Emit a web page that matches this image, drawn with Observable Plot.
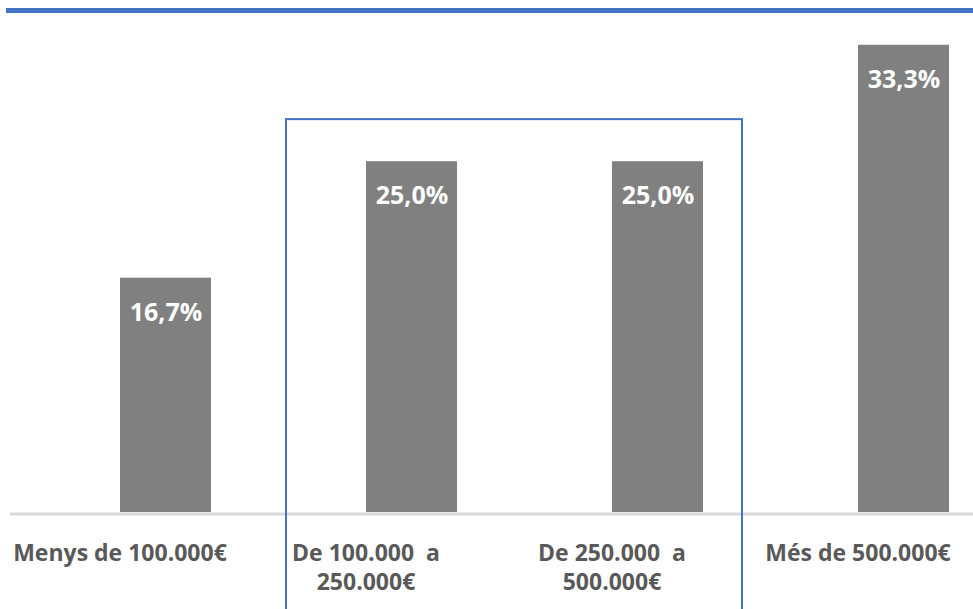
<!DOCTYPE html>
<html>
<head>
<meta charset="utf-8">
<script src="https://cdn.jsdelivr.net/npm/d3@7"></script>
<script src="https://cdn.jsdelivr.net/npm/@observablehq/plot@0.6"></script>
<style>
  html, body { margin: 0; padding: 0; background: #fff; }
  #wrap { position: relative; width: 973px; height: 609px; overflow: hidden; }
  #topbar { position: absolute; left: 6px; right: 0; top: 8px; height: 5px; background: #4472C4; }
  #chart { position: absolute; left: 0; top: 0; }
</style>
</head>
<body>
<div id="wrap">
  <div id="chart"></div>
  <div id="topbar"></div>
</div>
<script>
const categories = ["Menys de 100.000€", "De 100.000 a 250.000€", "De 250.000 a 500.000€", "Més de 500.000€"];
const tickLabels = ["Menys de 100.000€", "De 100.000  a\n250.000€", "De 250.000  a\n500.000€", "Més de 500.000€"];
const values = [16.7, 25.0, 25.0, 33.3];
const valueLabels = ["16,7%", "25,0%", "25,0%", "33,3%"];
// highlight box around the two middle categories
const highlightFrom = categories[1];
const highlightTo = categories[2];
const highlightTop = 28;

const data = categories.map((c, i) => ({cat: c, value: values[i], label: valueLabels[i], tick: tickLabels[i]}));
const tickMap = new Map(data.map(d => [d.cat, d.tick]));
const font = "'Open Sans', 'DejaVu Sans', sans-serif";

const plot = Plot.plot({
  width: 973,
  height: 609,
  marginLeft: 10,
  marginRight: 0,
  marginTop: 0,
  marginBottom: 97,
  style: {fontFamily: font, background: "transparent", overflow: "visible"},
  x: {domain: categories, range: [41, 1028], paddingInner: 0.63, paddingOuter: 0.315, axis: null},
  y: {domain: [0, 36.49], range: [512, 0], axis: null},
  marks: [
    Plot.barY(data, {x: "cat", y: "value", fill: "#808080"}),
    Plot.ruleY([0], {stroke: "#d9d9d9", strokeWidth: 3, dy: 1.5}),
    Plot.text(data, {x: "cat", y: "value", text: "label", lineAnchor: "top", dy: 25,
      fill: "#ffffff", fontSize: 25, fontWeight: "bold"}),
    Plot.axisX({anchor: "bottom", label: null, tickSize: 0, tickPadding: 28, dx: -46, fontSize: 23,
      fontWeight: "bold", fill: "#595959", lineHeight: 1.25,
      tickFormat: d => tickMap.get(d)})
  ]
});

const xs = plot.scale("x");
const ys = plot.scale("y");
const x1 = xs.apply(highlightFrom) - 80;
const x2 = xs.apply(highlightTo) + xs.bandwidth + 39;
const yTop = ys.apply(highlightTop);
d3.select(plot).append("rect")
  .attr("x", x1).attr("y", yTop)
  .attr("width", x2 - x1).attr("height", 609 - yTop + 20)
  .attr("fill", "none").attr("stroke", "#4472C4").attr("stroke-width", 2);

document.getElementById("chart").appendChild(plot);
</script>
</body>
</html>
